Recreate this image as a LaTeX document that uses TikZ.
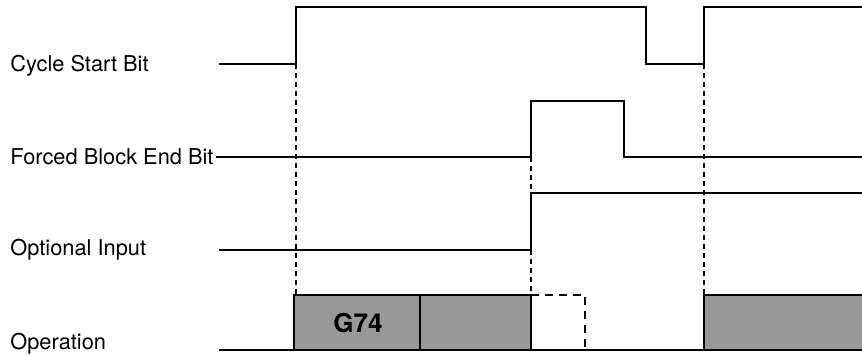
\documentclass[tikz,border=0pt]{standalone}
\usepackage{fontspec}
\setmainfont{TeX Gyre Heros}
\usetikzlibrary{positioning}
\definecolor{ink}{HTML}{000000}
\definecolor{stipple}{gray}{0.6}

\begin{document}
\begin{tikzpicture}[x=0.5pt, y=-0.5pt, font=\fontsize{10.9}{13}\selectfont,
    wave/.style={ink, line width=1.2pt, line join=miter},
    guide/.style={ink, line width=0.6pt, dash pattern=on 2.5pt off 2pt},
    opbox/.style={wave, fill=stipple},
    sig/.style={anchor=west, inner sep=0pt}]
        \useasboundingbox (0,0) rectangle (862,356);
        % signal names
        \node[sig] (cyc) at (10,66) {Cycle Start Bit};
        \node[sig] (fbe) at (10,157) {Forced Block End Bit};
        \node[sig] (opt) at (10,250) {Optional Input};
        \node[sig] (op)  at (10,344) {Operation};
        % waveforms
        \draw[wave] (219,64) -- (296,64) -- (296,7) -- (646,7) -- (646,64) -- (704,64) -- (704,7) -- (862,7);
        \draw[wave] (fbe.east) ++(1pt,0) -- (531,157) -- (531,101) -- (624,101) -- (624,157) -- (862,157);
        \draw[wave] (219,250) -- (531,250) -- (531,193) -- (862,193);
        % operation blocks
        \draw[opbox] (294,295) rectangle (420,350);
        \draw[opbox] (420,295) rectangle (531,350);
        \node[font=\bfseries\fontsize{13}{13}\selectfont] (g74) at (358,323) {G74};
        \draw[guide, line width=1.1pt, dash pattern=on 4pt off 3pt] (531,295) -- (585,295) -- (585,350);
        \fill[stipple] (704,295) rectangle (862,350);
        \draw[wave] (862,295) -- (704,295) -- (704,350);
        \draw[wave] (219,350) -- (862,350);
        % timing guides
        \foreach \t in {296,704} \draw[guide] (\t,64) -- (\t,295);
        \draw[guide] (531,157) -- (531,193);
        \draw[guide] (531,250) -- (531,295);
\end{tikzpicture}
\end{document}
